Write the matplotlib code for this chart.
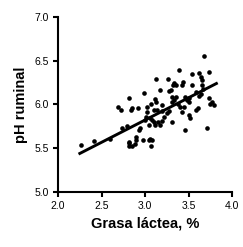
import matplotlib
matplotlib.use("Agg")
import matplotlib.pyplot as plt

plt.rcParams['font.family'] = ['Liberation Sans', 'DejaVu Sans']

# Milk fat (%) vs ruminal pH
grasa = [2.26, 2.41, 2.60, 2.69, 2.72, 2.73, 2.79, 2.81, 2.81, 2.81, 2.84,
         2.85, 2.92, 2.94, 2.93, 2.89, 2.90, 2.88, 2.82, 2.85, 2.99, 3.02,
         3.01, 3.00, 3.06, 3.08, 3.10, 3.11, 3.15, 3.19, 3.17, 3.07, 3.02,
         3.13, 3.26, 3.33, 3.32, 3.30, 3.28, 3.17, 3.11, 3.13, 3.31, 3.33,
         3.31, 3.10, 3.14, 3.20, 3.25, 3.27, 3.31, 2.98, 3.04, 3.08, 3.07,
         3.06, 3.39, 3.54, 3.62, 3.64, 3.73, 3.68, 3.36, 3.44, 3.42, 3.54,
         3.65, 3.67, 3.59, 3.62, 3.64, 3.36, 3.46, 3.48, 3.51, 3.50, 3.73,
         3.75, 3.77, 3.40, 3.42, 3.50, 3.52, 3.59, 3.61, 3.46, 3.71, 3.79,
         3.66, 3.19, 3.05, 3.22, 3.38, 3.45]
ph = [5.54, 5.58, 5.61, 5.97, 5.94, 5.73, 5.75, 6.07, 5.56, 5.52, 5.94,
      5.96, 5.96, 5.73, 5.71, 5.63, 5.59, 5.55, 5.57, 5.52, 6.13, 5.97,
      5.86, 5.82, 5.84, 5.82, 5.80, 5.77, 5.80, 5.81, 5.77, 6.00, 5.91,
      6.29, 6.29, 6.25, 6.22, 6.17, 6.15, 6.17, 6.06, 6.03, 6.09, 6.05,
      6.03, 5.94, 5.94, 5.92, 5.90, 5.92, 5.80, 5.59, 5.59, 5.59, 5.52,
      5.61, 6.39, 6.35, 6.36, 6.32, 6.37, 6.55, 6.22, 6.26, 6.22, 6.22,
      6.22, 6.18, 6.14, 6.10, 6.12, 6.09, 6.09, 6.05, 6.07, 6.03, 6.07,
      6.01, 6.03, 5.97, 5.91, 5.88, 5.84, 5.94, 5.96, 5.71, 5.73, 5.99,
      6.28, 5.99, 5.76, 5.86, 6.00, 5.97]

# regression line end points
linea_x = [2.25, 3.82]
linea_y = [5.44, 6.24]

fig = plt.figure(figsize=(2.43, 2.47), dpi=100)
ax = fig.add_axes([0.239, 0.223, 0.716, 0.708])

ax.scatter(grasa, ph, s=11, color='black', linewidths=0, zorder=3)
ax.plot(linea_x, linea_y, color='black', linewidth=2.1, zorder=2)

ax.set_xlim(2.0, 4.0)
ax.set_ylim(5.0, 7.0)
ax.set_xticks([2.0, 2.5, 3.0, 3.5, 4.0])
ax.set_yticks([5.0, 5.5, 6.0, 6.5, 7.0])
ax.set_xticklabels(['2.0', '2.5', '3.0', '3.5', '4.0'])
ax.set_yticklabels(['5.0', '5.5', '6.0', '6.5', '7.0'])

for s in ['top', 'right']:
    ax.spines[s].set_visible(False)
for s in ['left', 'bottom']:
    ax.spines[s].set_linewidth(1.5)
ax.tick_params(direction='out', length=3.5, width=1.5, labelsize=7.5, pad=3)

ax.set_xlabel('Grasa láctea, %', fontsize=10.5, fontweight='bold', labelpad=4)
ax.set_ylabel('pH ruminal', fontsize=10.5, fontweight='bold', labelpad=5)

fig.savefig('out.png', dpi=100)
